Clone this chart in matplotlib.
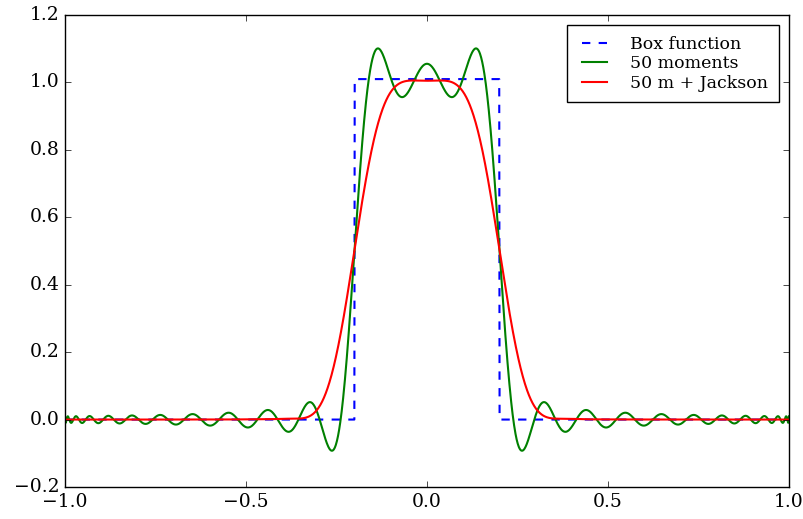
import numpy as np
import matplotlib
matplotlib.use('Agg')
import matplotlib.pyplot as plt
from numpy.polynomial import chebyshev as C

# box function
box_left = -0.2
box_right = 0.2
box_height = 1.01
n_moments = 50   # highest order kept, T_0 .. T_50

labels = ['Box function', '50 moments', '50 m + Jackson']

######################################################
# chebyshev moments of the box and jackson kernel
######################################################
def moments(a, b, h, N):
    ta = np.arccos(a)
    tb = np.arccos(b)
    n = np.arange(1, N)
    mu = np.zeros(N)
    mu[0] = h * (ta - tb) / np.pi
    mu[1:] = 2 * h * (np.sin(n * ta) - np.sin(n * tb)) / (n * np.pi)
    return mu

def jackson(N):
    n = np.arange(N)
    q = np.pi / (N + 1)
    return ((N - n + 1) * np.cos(q * n) + np.sin(q * n) / np.tan(q)) / (N + 1)

x = np.linspace(-1, 1, 2000)
box = np.where((x > box_left) & (x < box_right), box_height, 0.0)
N = n_moments + 1
mu = moments(box_left, box_right, box_height, N)
f_plain = C.chebval(x, mu)
f_jack = C.chebval(x, mu * jackson(N))

plt.style.use('classic')
plt.rcParams['font.family'] = 'serif'
plt.rcParams['font.serif'] = ['DejaVu Serif']
plt.rcParams['font.size'] = 13.5

fig = plt.figure(figsize=(8.04, 5.19), dpi=100, facecolor='white')
ax = fig.add_axes([0.0808, 0.0617, 0.9005, 0.9093])
ax.plot(x, box, 'b--', lw=1.5, label=labels[0])
ax.plot(x, f_plain, 'g', lw=1.5, label=labels[1])
ax.plot(x, f_jack, 'r', lw=1.5, label=labels[2])
ax.set_xlim(-1, 1)
ax.set_ylim(-0.2, 1.2)
ax.legend(loc='upper right', fontsize=12.5, labelspacing=0.14,
          handlelength=2.0, handletextpad=1.05, borderpad=0.6,
          borderaxespad=0.6)
fig.savefig('out.png', dpi=100, facecolor='white')
